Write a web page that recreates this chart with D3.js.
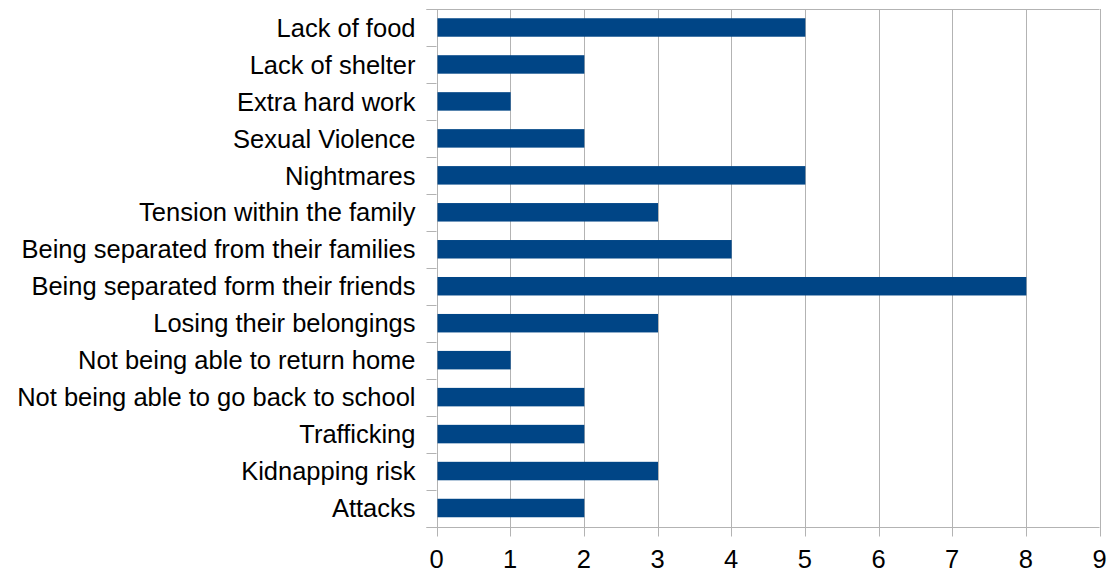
<!DOCTYPE html>
<html>
<head>
<meta charset="utf-8">
<script src="https://cdn.jsdelivr.net/npm/d3@7"></script>
<style>
  body { margin: 0; background: #fff; }
  text { font-family: "Liberation Sans", Arial, sans-serif; fill: #000; }
</style>
</head>
<body>
<div id="container" style="width:1117px;height:574px;"></div>
<script>
const categories = [
    "Lack of food", "Lack of shelter", "Extra hard work", "Sexual Violence",
    "Nightmares", "Tension within the family", "Being separated from their families",
    "Being separated form their friends", "Losing their belongings",
    "Not being able to return home", "Not being able to go back to school",
    "Trafficking", "Kidnapping risk", "Attacks"
];
const values = [5, 2, 1, 2, 5, 3, 4, 8, 3, 1, 2, 2, 3, 2];
const xTicks = [0, 1, 2, 3, 4, 5, 6, 7, 8, 9];

const width = 1117, height = 574;
const plotLeft = 436.5, plotRight = 1099.5, plotTop = 9, plotBottom = 526.5;

const svg = d3.select("#container")
    .append("svg")
    .attr("width", width)
    .attr("height", height);

const x = d3.scaleLinear().domain([0, 9]).range([plotLeft, plotRight]);
const y = d3.scaleBand().domain(categories).range([plotTop, plotBottom]).paddingInner(0.5).paddingOuter(0.25);

// gridlines
svg.append("g")
    .selectAll("line")
    .data(xTicks)
    .join("line")
    .attr("x1", d => Math.round(x(d)) + 0.5)
    .attr("x2", d => Math.round(x(d)) + 0.5)
    .attr("y1", plotTop)
    .attr("y2", plotBottom + 10)
    .attr("stroke", "#b3b3b3")
    .attr("stroke-width", 1);

// top border
svg.append("line")
    .attr("x1", plotLeft - 10).attr("x2", plotRight)
    .attr("y1", plotTop + 0.5).attr("y2", plotTop + 0.5)
    .attr("stroke", "#b3b3b3");

// category boundary ticks on left
const bounds = d3.range(categories.length + 1).map(i => plotTop + i * (plotBottom - plotTop) / categories.length);
svg.append("g")
    .selectAll("line")
    .data(bounds)
    .join("line")
    .attr("x1", plotLeft - 10)
    .attr("x2", plotLeft)
    .attr("y1", d => Math.round(d) + 0.5)
    .attr("y2", d => Math.round(d) + 0.5)
    .attr("stroke", "#b3b3b3");

// bottom axis line
svg.append("line")
    .attr("x1", plotLeft - 10).attr("x2", plotRight)
    .attr("y1", Math.round(plotBottom) + 0.5).attr("y2", Math.round(plotBottom) + 0.5)
    .attr("stroke", "#b3b3b3");

// bars
svg.append("g")
    .selectAll("rect")
    .data(values)
    .join("rect")
    .attr("x", x(0) + 1)
    .attr("y", (d, i) => y(categories[i]))
    .attr("width", d => x(d) - x(0) - 0.5)
    .attr("height", y.bandwidth())
    .attr("fill", "#004586");

// category labels
svg.append("g")
    .selectAll("text")
    .data(categories)
    .join("text")
    .attr("x", plotLeft - 21)
    .attr("y", d => y(d) + y.bandwidth() / 2)
    .attr("dy", "0.36em")
    .attr("text-anchor", "end")
    .attr("font-size", "25.5px")
    .text(d => d);

// x tick labels
svg.append("g")
    .selectAll("text")
    .data(xTicks)
    .join("text")
    .attr("x", d => x(d))
    .attr("y", 568)
    .attr("text-anchor", "middle")
    .attr("font-size", "25.5px")
    .text(d => d);
</script>
</body>
</html>
